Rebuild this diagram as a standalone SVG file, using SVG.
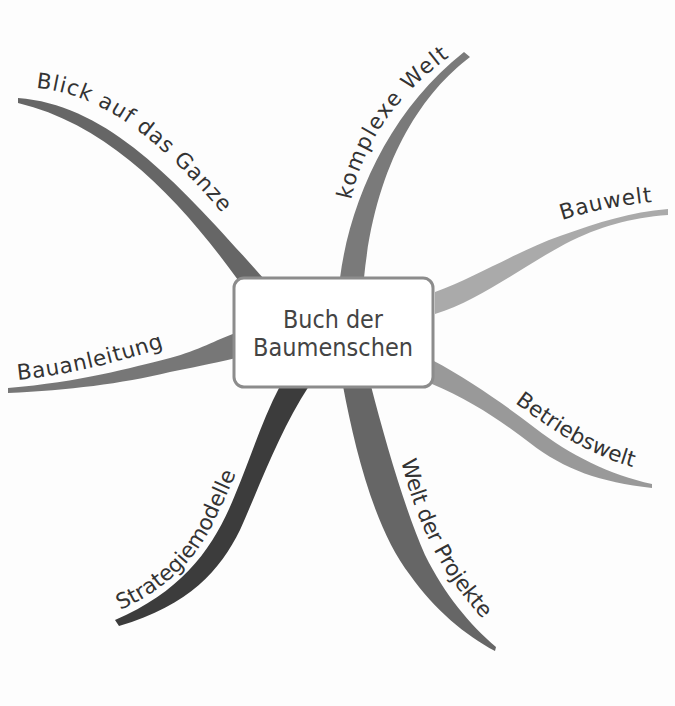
<svg xmlns="http://www.w3.org/2000/svg" width="675" height="706" viewBox="0 0 675 706">
<defs>
<style>
.lbl{font-family:"DejaVu Sans","Liberation Sans",sans-serif;font-size:21.5px;fill:#333}
.ctr{font-family:"DejaVu Sans","Liberation Sans",sans-serif;font-size:24px;fill:#444;text-anchor:middle}
</style>
<path id="tp1" d="M36,88 C120,95 185,168 245,240"/>
<path id="tp2" d="M351,200 C364,140 399,90 462,48"/>
<path id="tp3" d="M562,220 C590,211 620,205 662,201"/>
<path id="tp4" d="M18,380 C60,376 110,365 168,346"/>
<path id="tp5" d="M515,403 C550,428 590,458 645,470"/>
<path id="tp6" d="M120,610 C171,588 201,553 218,513 C228,493 236,473 246,450"/>
<path id="tp7" d="M401,461 C416,520 441,580 496,632"/>
</defs>
<rect width="675" height="706" fill="#fdfdfd"/>
<g id="connectors">
<path id="b1" fill="#666" d="M18,98 C110,105 180,185 265,280 L238,280 C180,200 110,125 18,103 Z"/>
<path id="b2" fill="#7a7a7a" d="M470,57 C420,95 375,165 364,278 L340,278 C350,200 390,110 464,52 Z"/>
<path id="b3" fill="#aaa" d="M435,292 C480,275 520,250 560,236 C600,222 630,212 668,209 L668,215 C630,218 600,226 565,244 C520,268 480,300 435,314 Z"/>
<path id="b4" fill="#777" d="M8,388 C80,382 130,368 170,358 C200,350 215,340 236,333 L236,358 C210,364 190,368 170,372 C120,384 70,390 8,393 Z"/>
<path id="b5" fill="#999" d="M432,360 C470,380 505,405 535,428 C570,455 610,475 652,484 L652,488 C600,482 565,470 530,443 C500,420 470,400 432,384 Z"/>
<path id="b6" fill="#3c3c3c" d="M280,386 C262,420 250,460 235,495 C215,545 185,590 115,620 L119,626 C190,605 220,570 240,530 C260,485 280,430 309,386 Z"/>
<path id="b7" fill="#666" d="M343,386 C355,450 375,530 410,575 C435,610 465,635 495,651 L496,647 C470,625 445,595 425,555 C405,510 385,440 371,386 Z"/>
</g>
<g id="n1"><text class="lbl"><textPath href="#tp1" textLength="230" lengthAdjust="spacing">Blick auf das Ganze</textPath></text></g>
<g id="n2"><text class="lbl"><textPath href="#tp2" textLength="178" lengthAdjust="spacing">komplexe Welt</textPath></text></g>
<g id="n3"><text class="lbl"><textPath href="#tp3" textLength="92" lengthAdjust="spacing">Bauwelt</textPath></text></g>
<g id="n4"><text class="lbl"><textPath href="#tp4" textLength="150" lengthAdjust="spacing">Bauanleitung</textPath></text></g>
<g id="n5"><text class="lbl"><textPath href="#tp5" textLength="135" lengthAdjust="spacing">Betriebswelt</textPath></text></g>
<g id="n6"><text class="lbl"><textPath href="#tp6" textLength="185" lengthAdjust="spacing">Strategiemodelle</textPath></text></g>
<g id="n7"><text class="lbl"><textPath href="#tp7" textLength="180" lengthAdjust="spacing">Welt der Projekte</textPath></text></g>
<g id="center">
<rect x="234" y="278" width="199" height="109" rx="10" fill="#fff" stroke="#8c8c8c" stroke-width="3"/>
<text class="ctr" x="333" y="328" textLength="100" lengthAdjust="spacingAndGlyphs">Buch der</text>
<text class="ctr" x="333" y="356" textLength="160" lengthAdjust="spacingAndGlyphs">Baumenschen</text>
</g>
</svg>
